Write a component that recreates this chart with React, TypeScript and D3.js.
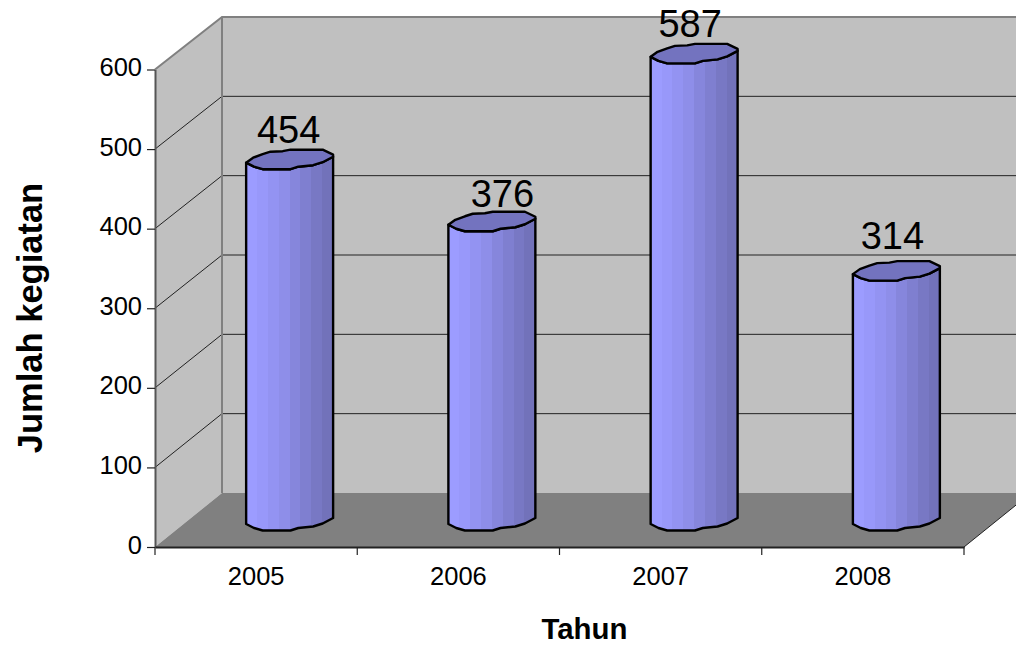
import * as d3 from "d3";
import { useRef, useEffect } from "react";

const years = ["2005", "2006", "2007", "2008"];
const counts = [454, 376, 587, 314];
const yTicks = [0, 100, 200, 300, 400, 500, 600];
// the value labels do not sit quite centred on their bars
const labelDx = [-1, 10.5, -4, -4];
const labelDy = [-17, -15, -16.5, -22];

// cylinder rim outline, x as 0..1 across the bar, dy in px from the rim centre
const rimFront: [number, number][] = [
  [0, 3], [0.09, 7], [0.19, 9.5], [0.51, 9.5], [0.6, 7], [0.77, 5.5], [0.88, 2.5], [1, -3],
];
const rimBack: [number, number][] = [
  [1, -5], [0.88, -10], [0.51, -10], [0.42, -8.5], [0.28, -8], [0.19, -5.5], [0.08, -2], [0, 3],
];
const stripes = ["#9c9cff", "#9898fa", "#9393f2", "#8e8ee9", "#8686dc", "#7f7fd0", "#7878c4", "#7272ba"];

const width = 1016;
const height = 646;
const depthX = 67;
const left = 155;
const right = 964;
const font = "'Liberation Sans', Arial, sans-serif";

export default function App() {
  const yAxisRef = useRef<SVGGElement | null>(null);
  const xAxisRef = useRef<SVGGElement | null>(null);

  const x = d3.scaleBand<string>().domain(years).range([left, right]);
  const y = d3.scaleLinear().domain([0, 600]).range([547, 69.5]);
  const backY = d3.scaleLinear().domain([0, 600]).range([493, 17]);
  // bars stand half way into the floor
  const barY = d3.scaleLinear().domain([0, 600]).range([521, 43.5]);
  const barW = x.bandwidth() * 0.43;
  const line = d3.line();

  useEffect(() => {
    if (yAxisRef.current) {
      const g = d3.select(yAxisRef.current);
      g.call(d3.axisLeft(y).tickValues(yTicks).tickSize(8).tickSizeOuter(0).tickPadding(5) as any);
      g.selectAll("text").attr("font-size", 25.5).attr("font-family", font).attr("fill", "#000").attr("dy", "0.24em");
      g.selectAll("line").attr("stroke", "#222").attr("stroke-width", 1.2);
      g.select(".domain").attr("stroke", "#555").attr("stroke-width", 2);
    }
    if (xAxisRef.current) {
      const g = d3.select(xAxisRef.current);
      g.call(d3.axisBottom(x).tickSize(0).tickPadding(20) as any);
      g.selectAll("text").attr("font-size", 25.5).attr("font-family", font).attr("fill", "#000");
      g.select(".domain").attr("stroke", "#222").attr("stroke-width", 2);
    }
  });

  const floorPts: [number, number][] = [
    [left, y(0)], [left + depthX, backY(0)], [right + depthX, backY(0)], [right, y(0)],
  ];
  const sidePts: [number, number][] = [
    [left, y(600)], [left + depthX, backY(600)], [left + depthX, backY(0)], [left, y(0)],
  ];
  const backPts: [number, number][] = [
    [left + depthX, backY(600)], [width + 20, backY(600)], [width + 20, backY(0)], [left + depthX, backY(0)],
  ];
  const boundaries = [...years.map((d) => x(d)!), right];

  return (
    <svg
      width={width}
      height={height}
      style={{ position: "absolute", left: 0, top: 0, background: "#fff" }}
      fontFamily={font}
    >
      <defs>
        <linearGradient id="cyl" x1="0" x2="1" y1="0" y2="0">
          {stripes.map((c, i) => [
            <stop key={i + "a"} offset={i / stripes.length} stopColor={c} />,
            <stop key={i + "b"} offset={(i + 1) / stripes.length} stopColor={c} />,
          ])}
        </linearGradient>
      </defs>
      <path d={line(backPts) + "Z"} fill="#c0c0c0" />
      <path d={line(sidePts) + "Z"} fill="#c0c0c0" />
      <path d={line(floorPts) + "Z"} fill="#808080" />
      <g stroke="#222" strokeWidth={1}>
        {yTicks.slice(1, -1).map((t) => (
          <g key={t}>
            <line x1={left} y1={y(t)} x2={left + depthX} y2={backY(t)} />
            <line x1={left + depthX} y1={backY(t)} x2={width} y2={backY(t)} />
          </g>
        ))}
      </g>
      <path
        d={line([[left, y(600)], [left + depthX, backY(600)], [width, backY(600)]])!}
        fill="none"
        stroke="#808080"
        strokeWidth={2}
      />
      <line x1={left + depthX} y1={backY(600)} x2={left + depthX} y2={backY(0)} stroke="#808080" strokeWidth={2} />
      <line x1={right} y1={y(0)} x2={right + depthX} y2={backY(0)} stroke="#222" strokeWidth={1} />
      <g ref={yAxisRef} transform={`translate(${left},0)`} />
      <g ref={xAxisRef} transform={`translate(0,${y(0)})`} />
      {boundaries.map((b) => (
        <line key={b} x1={b} x2={b} y1={y(0)} y2={y(0) + 8} stroke="#222" strokeWidth={1.2} />
      ))}
      {years.map((yr, i) => {
        const cx = x(yr)! + x.bandwidth() / 2 + depthX / 2;
        const bx = d3.scaleLinear().domain([0, 1]).range([cx - barW / 2, cx + barW / 2]);
        const topY = barY(counts[i]);
        const botY = barY(0);
        const front = (cy: number) => rimFront.map(([a, b]) => [bx(a), cy + b] as [number, number]);
        const back = (cy: number) => rimBack.map(([a, b]) => [bx(a), cy + b] as [number, number]);
        const body = [...front(topY), ...front(botY).reverse()];
        return (
          <g key={yr} stroke="#000" strokeWidth={2.4} strokeLinejoin="round">
            <path d={line(body) + "Z"} fill="url(#cyl)" />
            <path d={line([...front(topY), ...back(topY)]) + "Z"} fill="#7373bf" />
            <text
              x={cx + labelDx[i]}
              y={topY + labelDy[i]}
              textAnchor="middle"
              fontSize={38}
              stroke="none"
              fill="#000"
            >
              {counts[i]}
            </text>
          </g>
        );
      })}
      <text x={584.5} y={638.5} textAnchor="middle" fontSize={29.4} fontWeight="bold" fill="#000">
        Tahun
      </text>
      <text
        transform="translate(42,318) rotate(-90)"
        textAnchor="middle"
        fontSize={34.5}
        fontWeight="bold"
        fill="#000"
      >
        Jumlah kegiatan
      </text>
    </svg>
  );
}
